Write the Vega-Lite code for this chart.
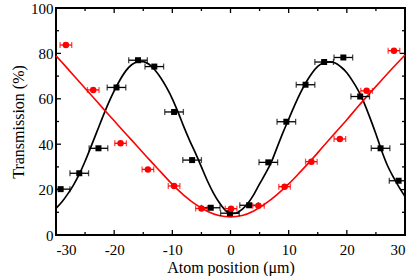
{
  "$schema": "https://vega.github.io/schema/vega-lite/v6.json",
  "width": 349,
  "height": 227,
  "autosize": {"type": "none"},
  "padding": {"left": 56, "top": 8, "right": 10, "bottom": 41},
  "background": "white",
  "config": {
    "font": "Liberation Serif",
    "view": {"stroke": "black", "strokeWidth": 2},
    "axis": {
      "domain": false,
      "grid": false,
      "ticks": false,
      "labelColor": "black",
      "labelFont": "Liberation Serif",
      "labelFontSize": 15,
      "titleFont": "Liberation Serif",
      "titleFontSize": 16,
      "titleFontWeight": "normal",
      "titleColor": "black"
    }
  },
  "datasets": {
    "xMajor": [{"v": -30}, {"v": -20}, {"v": -10}, {"v": 0}, {"v": 10}, {"v": 20}, {"v": 30}],
    "xMinor": [{"v": -25}, {"v": -15}, {"v": -5}, {"v": 5}, {"v": 15}, {"v": 25}],
    "yMajor": [{"v": 0}, {"v": 20}, {"v": 40}, {"v": 60}, {"v": 80}, {"v": 100}],
    "yMinor": [{"v": 10}, {"v": 30}, {"v": 50}, {"v": 70}, {"v": 90}],
    "blackCurve": [
      {"x": -30, "y": 11.7}, {"x": -29, "y": 14.5}, {"x": -28, "y": 18}, {"x": -27, "y": 22},
      {"x": -26, "y": 26.8}, {"x": -25, "y": 32.5}, {"x": -24, "y": 38.8}, {"x": -23, "y": 45.3},
      {"x": -22, "y": 51.8}, {"x": -21, "y": 58}, {"x": -20, "y": 63.5}, {"x": -19, "y": 68.3},
      {"x": -18, "y": 72.3}, {"x": -17, "y": 75}, {"x": -16, "y": 76.3}, {"x": -15, "y": 76.4},
      {"x": -14, "y": 75.2}, {"x": -13, "y": 72.7}, {"x": -12, "y": 69.3}, {"x": -11, "y": 65},
      {"x": -10, "y": 60}, {"x": -9, "y": 54}, {"x": -8, "y": 47.5}, {"x": -7, "y": 41.5},
      {"x": -6, "y": 36}, {"x": -5, "y": 30}, {"x": -4, "y": 24}, {"x": -3, "y": 18.8},
      {"x": -2, "y": 14.5}, {"x": -1, "y": 11.2}, {"x": 0, "y": 9.4}, {"x": 1, "y": 9.6},
      {"x": 2, "y": 11.3}, {"x": 3, "y": 14}, {"x": 4, "y": 17.8}, {"x": 5, "y": 22.5},
      {"x": 6, "y": 27}, {"x": 7, "y": 32}, {"x": 8, "y": 38.5}, {"x": 9, "y": 45},
      {"x": 10, "y": 51}, {"x": 11, "y": 57}, {"x": 12, "y": 62.5}, {"x": 13, "y": 67.3},
      {"x": 14, "y": 71.3}, {"x": 15, "y": 74.3}, {"x": 16, "y": 75.9}, {"x": 17, "y": 76.3},
      {"x": 18, "y": 75.8}, {"x": 19, "y": 74}, {"x": 20, "y": 71.5}, {"x": 21, "y": 67.8},
      {"x": 22, "y": 63.5}, {"x": 23, "y": 58}, {"x": 24, "y": 51.5}, {"x": 25, "y": 44.5},
      {"x": 26, "y": 37}, {"x": 27, "y": 30.5}, {"x": 28, "y": 25.5}, {"x": 29, "y": 21},
      {"x": 30, "y": 17}
    ],
    "redCurve": [
      {"x": -30, "y": 79}, {"x": -28, "y": 73.3}, {"x": -26, "y": 67.5}, {"x": -24, "y": 61.8},
      {"x": -22, "y": 56}, {"x": -20, "y": 50.3}, {"x": -18, "y": 44.6}, {"x": -16, "y": 39},
      {"x": -14, "y": 33.3}, {"x": -12, "y": 27.8}, {"x": -10, "y": 22.3}, {"x": -8, "y": 17.5},
      {"x": -6, "y": 13.5}, {"x": -4, "y": 10.5}, {"x": -2, "y": 8.6}, {"x": 0, "y": 8},
      {"x": 2, "y": 8.6}, {"x": 4, "y": 10.6}, {"x": 6, "y": 13.8}, {"x": 8, "y": 17.8},
      {"x": 10, "y": 22.5}, {"x": 12, "y": 27.8}, {"x": 14, "y": 33.3}, {"x": 16, "y": 39.2},
      {"x": 18, "y": 45}, {"x": 20, "y": 50.8}, {"x": 22, "y": 56.8}, {"x": 24, "y": 62.6},
      {"x": 26, "y": 68.3}, {"x": 28, "y": 73.9}, {"x": 30, "y": 79.3}
    ],
    "blackPoints": [
      {"x": -29.2, "y": 20.2, "err": 1.6}, {"x": -26, "y": 27.2, "err": 1.6},
      {"x": -22.7, "y": 38.2, "err": 1.6}, {"x": -19.6, "y": 65, "err": 1.6},
      {"x": -15.9, "y": 77, "err": 1.6}, {"x": -13.1, "y": 74.2, "err": 1.6},
      {"x": -9.7, "y": 54.2, "err": 1.6}, {"x": -6.6, "y": 33, "err": 1.6},
      {"x": -3.4, "y": 12, "err": 1.6}, {"x": -0.1, "y": 9.6, "err": 1.6},
      {"x": 3.2, "y": 13.1, "err": 1.6}, {"x": 6.5, "y": 32, "err": 1.6},
      {"x": 9.6, "y": 49.9, "err": 1.6}, {"x": 12.9, "y": 66.2, "err": 1.6},
      {"x": 16.1, "y": 76.2, "err": 1.6}, {"x": 19.4, "y": 78.2, "err": 1.6},
      {"x": 22.3, "y": 61, "err": 1.6}, {"x": 25.8, "y": 38.2, "err": 1.6},
      {"x": 28.9, "y": 23.9, "err": 1.6}
    ],
    "redPoints": [
      {"x": -28.3, "y": 83.7, "err": 1.0}, {"x": -23.6, "y": 63.9, "err": 1.0},
      {"x": -18.9, "y": 40.4, "err": 1.0}, {"x": -14.2, "y": 28.9, "err": 1.0},
      {"x": -9.7, "y": 21.6, "err": 1.0}, {"x": -5, "y": 11.7, "err": 1.0},
      {"x": 0.1, "y": 11.6, "err": 1.0}, {"x": 4.8, "y": 12.9, "err": 1.0},
      {"x": 9.3, "y": 21.3, "err": 1.0}, {"x": 13.9, "y": 32.3, "err": 1.0},
      {"x": 18.8, "y": 42.3, "err": 1.0}, {"x": 23.4, "y": 63.5, "err": 1.0},
      {"x": 28.1, "y": 81.2, "err": 1.0}
    ]
  },
  "encoding": {
    "x": {"type": "quantitative", "title": "Atom position (μm)", "scale": {"domain": [-30, 30], "nice": false, "zero": false},
      "axis": {"orient": "bottom", "values": [-30, -20, -10, 0, 10, 20, 30], "labelExpr": "'' + datum.value", "labelPadding": 7, "titlePadding": 2}},
    "y": {"type": "quantitative", "title": "Transmission (%)", "scale": {"domain": [0, 100], "nice": false},
      "axis": {"orient": "left", "values": [0, 20, 40, 60, 80, 100], "labelExpr": "'' + datum.value", "labelPadding": 3, "titlePadding": 4}}
  },
  "layer": [
    {
      "data": {"name": "xMajor"},
      "mark": {"type": "rule", "strokeWidth": 1.3, "color": "black", "opacity": 1, "y2Offset": -5},
      "encoding": {
        "x": {"field": "v"},
        "y": {"datum": 0},
        "y2": {"datum": 0}
      }
    },
    {
      "data": {"name": "xMajor"},
      "mark": {"type": "rule", "strokeWidth": 1.3, "color": "black", "opacity": 1, "y2Offset": 5},
      "encoding": {
        "x": {"field": "v"},
        "y": {"datum": 100},
        "y2": {"datum": 100}
      }
    },
    {
      "data": {"name": "xMinor"},
      "mark": {"type": "rule", "strokeWidth": 1.3, "color": "black", "opacity": 1, "y2Offset": -3},
      "encoding": {
        "x": {"field": "v"},
        "y": {"datum": 0},
        "y2": {"datum": 0}
      }
    },
    {
      "data": {"name": "xMinor"},
      "mark": {"type": "rule", "strokeWidth": 1.3, "color": "black", "opacity": 1, "y2Offset": 3},
      "encoding": {
        "x": {"field": "v"},
        "y": {"datum": 100},
        "y2": {"datum": 100}
      }
    },
    {
      "data": {"name": "yMajor"},
      "mark": {"type": "rule", "strokeWidth": 1.3, "color": "black", "opacity": 1, "x2Offset": 5},
      "encoding": {
        "y": {"field": "v"},
        "x": {"datum": -30},
        "x2": {"datum": -30}
      }
    },
    {
      "data": {"name": "yMajor"},
      "mark": {"type": "rule", "strokeWidth": 1.3, "color": "black", "opacity": 1, "x2Offset": -5},
      "encoding": {
        "y": {"field": "v"},
        "x": {"datum": 30},
        "x2": {"datum": 30}
      }
    },
    {
      "data": {"name": "yMinor"},
      "mark": {"type": "rule", "strokeWidth": 1.3, "color": "black", "opacity": 1, "x2Offset": 3},
      "encoding": {
        "y": {"field": "v"},
        "x": {"datum": -30},
        "x2": {"datum": -30}
      }
    },
    {
      "data": {"name": "yMinor"},
      "mark": {"type": "rule", "strokeWidth": 1.3, "color": "black", "opacity": 1, "x2Offset": -3},
      "encoding": {
        "y": {"field": "v"},
        "x": {"datum": 30},
        "x2": {"datum": 30}
      }
    },
    {
      "data": {"name": "blackCurve"},
      "mark": {"type": "line", "color": "black", "strokeWidth": 1.7, "interpolate": "monotone"},
      "encoding": {
        "x": {"field": "x"},
        "y": {"field": "y"}
      }
    },
    {
      "data": {"name": "redCurve"},
      "mark": {"type": "line", "color": "#ff0000", "strokeWidth": 1.6, "interpolate": "monotone"},
      "encoding": {
        "x": {"field": "x"},
        "y": {"field": "y"}
      }
    },
    {
      "data": {"name": "blackPoints"},
      "mark": {"type": "errorbar", "color": "black", "thickness": 1.3, "clip": true, "ticks": {"size": 6}},
      "encoding": {
        "x": {"field": "x"},
        "xError": {"field": "err"},
        "y": {"field": "y"}
      }
    },
    {
      "data": {"name": "redPoints"},
      "mark": {"type": "errorbar", "color": "#ff0000", "thickness": 1.3, "clip": true, "ticks": {"size": 6}},
      "encoding": {
        "x": {"field": "x"},
        "xError": {"field": "err"},
        "y": {"field": "y"}
      }
    },
    {
      "data": {"name": "blackPoints"},
      "mark": {"type": "square", "filled": true, "color": "black", "size": 36, "opacity": 1},
      "encoding": {
        "x": {"field": "x"},
        "y": {"field": "y"}
      }
    },
    {
      "data": {"name": "redPoints"},
      "mark": {"type": "circle", "color": "#ff0000", "size": 42, "opacity": 1},
      "encoding": {
        "x": {"field": "x"},
        "y": {"field": "y"}
      }
    }
  ]
}
